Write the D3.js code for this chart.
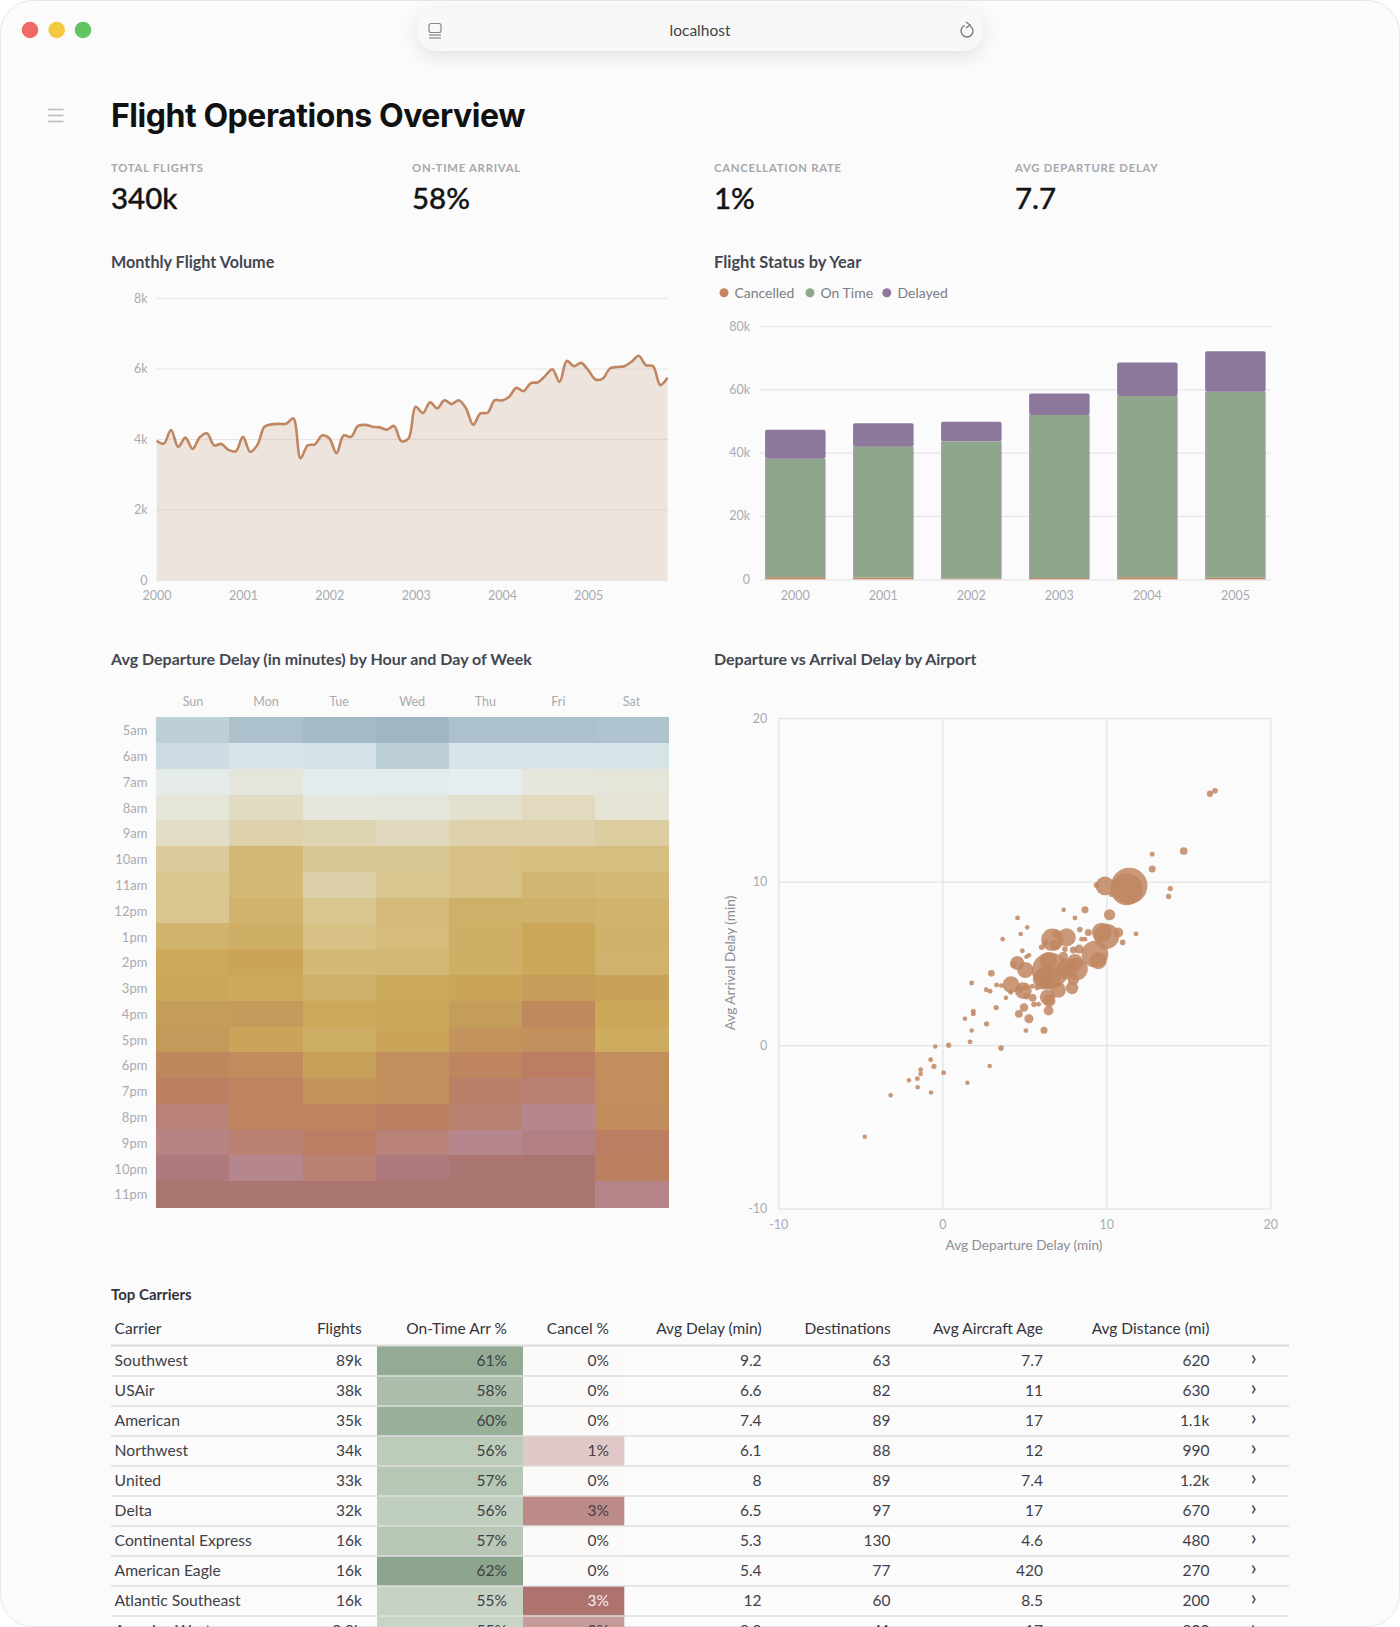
<!DOCTYPE html>
<html>
<head>
<meta charset="utf-8">
<script src="https://cdn.jsdelivr.net/npm/d3@7"></script>
<style>
  html, body { margin: 0; padding: 0; background: #fff; overflow: hidden; }
  svg { display: block; }
  text { font-family: "Lato", sans-serif; }
</style>
</head>
<body>
<svg id="page"></svg>
<script>
// Datos
const kpiLabels = ["TOTAL FLIGHTS", "ON-TIME ARRIVAL", "CANCELLATION RATE", "AVG DEPARTURE DELAY"];
const kpiValues = ["340k", "58%", "1%", "7.7"];

const monthlyFlights = [
  3950, 3870, 4255, 3780, 4040, 3720, 4050, 4160, 3820, 3860, 3690, 3650,
  4060, 3640, 3830, 4350, 4415, 4430, 4430, 4585, 3450, 3820, 3850, 4100,
  4020, 3600, 4100, 4060, 4370, 4400, 4350, 4330, 4265, 4370, 3940, 4010,
  4915, 4735, 5040, 4870, 5100, 4990, 5100, 4870, 4405, 4725, 4745, 5100,
  5090, 5200, 5450, 5360, 5585, 5610, 5790, 5980, 5620, 6215, 6065, 6160,
  5950, 5690, 5715, 6000, 6045, 6065, 6190, 6360, 6095, 6065, 5530, 5735
];
const years = ["2000", "2001", "2002", "2003", "2004", "2005"];
const statusNames = ["Cancelled", "On Time", "Delayed"];
const cancelled = [650, 550, 250, 400, 650, 500];
const onTime = [37450, 41350, 43330, 51500, 57250, 58760];
const delayed = [9160, 7360, 6210, 6800, 10600, 12740];

const days = ["Sun", "Mon", "Tue", "Wed", "Thu", "Fri", "Sat"];
const hours = ["5am", "6am", "7am", "8am", "9am", "10am", "11am", "12pm", "1pm", "2pm",
  "3pm", "4pm", "5pm", "6pm", "7pm", "8pm", "9pm", "10pm", "11pm"];
const hourDelay = [
  [0.6, 0.25, 0.1, 0, 0.25, 0.25, 0.3],
  [0.9, 1.2, 1.1, 0.6, 1.3, 1.2, 1.2],
  [2.3, 2.9, 1.9, 1.9, 2, 2.8, 3],
  [3, 4, 2.8, 2.9, 3.5, 4.1, 3.2],
  [3.8, 4.8, 4.6, 4.2, 4.8, 4.8, 5.2],
  [5.4, 6.7, 5.6, 5.6, 6.1, 6.2, 6.2],
  [5.7, 6.6, 5, 5.7, 6.1, 6.8, 6.6],
  [5.7, 7, 5.7, 6.5, 7.3, 7.2, 7],
  [7, 7.4, 6, 6.4, 7.4, 8.1, 7.2],
  [7.9, 8.2, 6.6, 6.7, 7.4, 8.1, 7.1],
  [8, 7.9, 7.3, 7.8, 8.2, 8.7, 8.4],
  [8.8, 8.9, 7.9, 8, 8.8, 10, 8.1],
  [9, 8.3, 7.5, 8.2, 9.4, 9.6, 7.7],
  [10.2, 9.8, 8.6, 9.6, 10.4, 11, 9.7],
  [10.9, 10.5, 9.3, 9.6, 11.3, 11.8, 9.7],
  [12, 10.5, 10.5, 10.9, 11.7, 13, 9.8],
  [12.5, 11.7, 11.1, 12, 13, 13.6, 11],
  [14, 13, 11.8, 14, 14.8, 15, 10.8],
  [15, 15, 15, 15, 15, 15, 12.8]
];
const delayStops = [0, 1, 2, 3, 4, 5, 6, 7, 8, 9, 10, 11, 12, 13, 14, 15];
const delayColors = ["#9fb7c2", "#d2e0e5", "#e5edee", "#e5e5d9", "#e1dbc2", "#ddd0a8", "#d7c185", "#d1b36e",
  "#cba859", "#c49a5b", "#c0895d", "#bb7e62", "#b88278", "#b5868e", "#ae7a7e", "#aa746f"];

// x = retraso salida, y = retraso llegada, flights = vuelos del aeropuerto
const airportDep = [16.32, 16.63, 14.72, 12.8, 12.8, 13.9, 13.8, 11.4, 11.24, 9.92, 9.41, 10.33, 8.7, 7.4, 8.09, 10.2, 4.59, 5.18, 4.78,
  8.39, 8.9, 3.68, 11.81, 11, 10.73, 9.72, 10.02, 6.71, 7.58, 6.97, 6.87, 6.32, 6.06, 7.48, 8.5, 8.7, 8.35, 7.99, 9.31, 9.51,
  4.88, 5.12, 5.28, 4.57, 4.33, 5.06, 6.46, 7.38, 6.57, 6.16, 7.58, 8.09, 8.19, 6.46, 7.99, 7.91, 2.99, 1.79, 4.19, 3.31, 3.6, 2.68,
  2.91, 4.94, 4.74, 5.08, 5.49, 5.79, 4.17, 3.88, 7.07, 6.42, 6.52, 5.51, 5.14, 5.59, 5.87, 3.29, 4.98, 4.67, 6.48, 1.89, 1.89,
  1.38, 5.28, 2.7, 1.79, 5.1, 6.2, 1.69, -0.43, 0.39, 3.58, -0.71, -0.51, 2.89, -1.32, -1.32, 0.08, -1.52, -2.03,
  -4.73, -3.15, -1.5, -0.69, 1.53];
const airportArr = [15.37, 15.55, 11.87, 11.67, 10.77, 9.57, 9.09, 9.74, 9.53, 9.74, 9.78, 9.23, 8.27, 8.27, 7.78, 7.97, 7.78, 7.2, 6.79,
  7.07, 6.89, 6.48, 6.79, 6.28, 6.89, 6.89, 6.65, 6.44, 6.59, 6.79, 6.12, 6.28, 5.98, 5.87, 6.48, 6.48, 5.87, 5.81, 5.57, 5.16,
  5.77, 5.39, 5.49, 5.02, 4.92, 4.59, 5.16, 5.43, 4.55, 4.04, 4.65, 5.06, 4.65, 4.15, 4, 3.5, 4.39, 3.8, 3.7, 3.68, 3.64, 3.39,
  3.29, 3.33, 3.43, 3.54, 3.6, 3.52, 3.23, 2.89, 3.37, 2.93, 2.72, 2.89, 2.99, 2.5, 2.5, 2.3, 2.3, 1.91, 2.11, 2.07, 1.91,
  1.61, 1.61, 1.3, 0.89, 0.89, 0.91, 0.2, -0.08, 0, -0.18, -0.89, -1.3, -1.28, -1.5, -1.77, -1.69, -2.05, -2.15,
  -5.6, -3.07, -2.57, -2.9, -2.3];
const airportFlights = [324, 256, 484, 196, 400, 225, 225, 10800, 8400, 2900, 256, 256, 400, 170, 196, 1024, 196, 170, 170,
  256, 400, 170, 196, 256, 784, 3136, 5184, 4096, 2704, 576, 900, 256, 256, 256, 196, 196, 676, 400, 5776, 2304,
  196, 144, 196, 1600, 324, 2116, 2500, 676, 10816, 3600, 3600, 2304, 4096, 4900, 1024, 1296, 361, 196, 2304, 196, 196, 196,
  196, 2304, 400, 256, 196, 256, 196, 170, 1936, 1936, 1296, 484, 324, 256, 196, 225, 576, 484, 784, 196, 196,
  170, 676, 225, 170, 196, 400, 196, 170, 225, 256, 196, 225, 170, 196, 170, 196, 196, 170,
  170, 170, 170, 170, 170];

const tableHeaders = ["Carrier", "Flights", "On-Time Arr %", "Cancel %", "Avg Delay (min)", "Destinations", "Avg Aircraft Age", "Avg Distance (mi)"];
const carriers = ["Southwest", "USAir", "American", "Northwest", "United", "Delta", "Continental Express", "American Eagle", "Atlantic Southeast", "America West"];
const carrierFlights = ["89k", "38k", "35k", "34k", "33k", "32k", "16k", "16k", "16k", "9.8k"];
const onTimePct = [61.2, 58.3, 60.4, 56.4, 57, 55.9, 56.9, 62, 55.2, 55];
const cancelPct = [0.1, 0.1, 0.1, 1.3, 0.1, 2.8, 0.1, 0.1, 3.4, 2.4];
const avgDelay = ["9.2", "6.6", "7.4", "6.1", "8", "6.5", "5.3", "5.4", "12", "8.8"];
const destinations = ["63", "82", "89", "88", "89", "97", "130", "77", "60", "41"];
const aircraftAge = ["7.7", "11", "17", "12", "7.4", "17", "4.6", "420", "8.5", "17"];
const avgDistance = ["620", "630", "1.1k", "990", "1.2k", "670", "480", "270", "200", "800"];

// Constantes básicas
const width = 1400;
const height = 1627;
const terracotta = "#c08660";
const sage = "#8fa68d";
const plum = "#8d789c";
const tickGrey = "#a9abb0";
const gridGrey = "#e6e6e8";
const titleInk = "#444752";

const svg = d3.select("#page")
  .attr("width", width)
  .attr("height", height)
  .attr("viewBox", `0 0 ${width} ${height}`);

const defs = svg.append("defs");
const shadow = defs.append("filter").attr("id", "barShadow")
  .attr("x", "-10%").attr("y", "-50%").attr("width", "120%").attr("height", "220%");
shadow.append("feDropShadow")
  .attr("dx", 0).attr("dy", 5).attr("stdDeviation", 9)
  .attr("flood-color", "#000").attr("flood-opacity", 0.1);

function label(parent, x, y, str, size, fill, anchor, weight) {
  return parent.append("text")
    .attr("x", x).attr("y", y)
    .attr("font-size", size)
    .attr("fill", fill)
    .attr("text-anchor", anchor || "start")
    .attr("font-weight", weight || 400)
    .text(str);
}

// Ventana
svg.append("rect")
  .attr("x", 0.5).attr("y", 0.5)
  .attr("width", width - 1).attr("height", height - 1)
  .attr("rx", 32)
  .attr("fill", "#fbfbfb")
  .attr("stroke", "#e6e6e6");

[["#ee6a62", 30], ["#f4c93f", 56.7], ["#62c462", 83]].forEach(([c, x]) => {
  svg.append("circle").attr("cx", x).attr("cy", 30).attr("r", 8.3).attr("fill", c);
});

svg.append("rect")
  .attr("x", 417).attr("y", 9)
  .attr("width", 566).attr("height", 42)
  .attr("rx", 20)
  .attr("fill", "#f8f8f8")
  .attr("filter", "url(#barShadow)");
label(svg, 700, 35.5, "localhost", 15.5, "#444", "middle");

// Iconos de la barra
svg.append("rect").attr("x", 429).attr("y", 23.5).attr("width", 12).attr("height", 9).attr("rx", 2)
  .attr("fill", "none").attr("stroke", "#888").attr("stroke-width", 1.2);
[35, 38].forEach(y => {
  svg.append("line").attr("x1", 429).attr("x2", 441).attr("y1", y).attr("y2", y)
    .attr("stroke", "#888").attr("stroke-width", 1.2);
});
svg.append("path")
  .attr("d", d3.arc()({ innerRadius: 6, outerRadius: 6, startAngle: 0.5, endAngle: 5.9 }))
  .attr("transform", "translate(967,31)")
  .attr("fill", "none").attr("stroke", "#777").attr("stroke-width", 1.3);
svg.append("path").attr("d", "M966,22 L970,25 L966,28").attr("fill", "none").attr("stroke", "#777").attr("stroke-width", 1.3);

// Menú
[109.5, 115.5, 121.5].forEach(y => {
  svg.append("line").attr("x1", 48).attr("x2", 63.5).attr("y1", y).attr("y2", y)
    .attr("stroke", "#bdbdbd").attr("stroke-width", 1.6);
});

label(svg, 111, 126.5, "Flight Operations Overview", 32, "#111", "start", 700)
  .style("font-family", "Inter").attr("letter-spacing", -0.45);

// KPIs
const kpiX = [111, 412, 714, 1015];
kpiLabels.forEach((d, i) => {
  label(svg, kpiX[i], 172, d, 11.3, "#a6a8ac", "start", 700).attr("letter-spacing", 0.75);
  label(svg, kpiX[i], 209, kpiValues[i], 29.5, "#141414", "start", 500)
    .attr("stroke", "#141414").attr("stroke-width", 0.35);
});

// Títulos de cada gráfico
label(svg, 111, 268, "Monthly Flight Volume", 16.2, titleInk, "start", 700);
label(svg, 714, 268, "Flight Status by Year", 16.4, titleInk, "start", 700);
label(svg, 111, 665, "Avg Departure Delay (in minutes) by Hour and Day of Week", 16, titleInk, "start", 700);
label(svg, 714, 665, "Departure vs Arrival Delay by Airport", 16, titleInk, "start", 700);
label(svg, 111, 1300, "Top Carriers", 15, "#33343b", "start", 700);

function styleAxis(g) {
  g.select(".domain").remove();
  g.selectAll(".tick text")
    .attr("fill", tickGrey)
    .attr("font-size", 12.5)
    .style("font-family", "Lato");
}

// Línea: volumen mensual
const lineX = d3.scaleLinear().domain([0, monthlyFlights.length - 1]).range([156.6, 667.5]);
const lineY = d3.scaleLinear().domain([0, 8000]).range([580, 298]);

svg.append("g")
  .attr("transform", "translate(156.6,0)")
  .call(d3.axisLeft(lineY).tickValues([0, 2000, 4000, 6000, 8000])
    .tickFormat(d => d === 0 ? "0" : d / 1000 + "k")
    .tickSize(-(667.5 - 156.6)).tickPadding(9))
  .call(styleAxis)
  .call(g => g.selectAll(".tick line").attr("stroke", gridGrey).attr("stroke-width", 1.2));

svg.append("g")
  .attr("transform", "translate(0,580)")
  .call(d3.axisBottom(lineX).tickValues(d3.range(0, 72, 12))
    .tickFormat(d => years[d / 12]).tickSize(0).tickPadding(11))
  .call(styleAxis);

const monthArea = d3.area()
  .x((d, i) => lineX(i))
  .y0(lineY(0))
  .y1(d => lineY(d))
  .curve(d3.curveCatmullRom.alpha(0.5));
const monthLine = d3.line()
  .x((d, i) => lineX(i))
  .y(d => lineY(d))
  .curve(d3.curveCatmullRom.alpha(0.5));

svg.append("path").attr("d", monthArea(monthlyFlights)).attr("fill", "#b88a6c").attr("fill-opacity", 0.2);
svg.append("path").attr("d", monthLine(monthlyFlights)).attr("fill", "none").attr("stroke", terracotta).attr("stroke-width", 2.6);

// Barras apiladas
const barX = d3.scaleBand().domain(years).range([751.3, 1279.4]).paddingInner(0.3125).paddingOuter(0.15625);
const barY = d3.scaleLinear().domain([0, 80000]).range([579.3, 326]);

svg.append("g")
  .attr("transform", "translate(760,0)")
  .call(d3.axisLeft(barY).tickValues([0, 20000, 40000, 60000, 80000])
    .tickFormat(d => d === 0 ? "0" : d / 1000 + "k")
    .tickSize(-(1271 - 760)).tickPadding(10))
  .call(styleAxis)
  .call(g => g.selectAll(".tick line").attr("stroke", gridGrey).attr("stroke-width", 1.2));

svg.append("g")
  .attr("transform", "translate(0,579.3)")
  .call(d3.axisBottom(barX).tickSize(0).tickPadding(11.5))
  .call(styleAxis);

const statusRows = years.map((y, i) => ({ year: y, Cancelled: cancelled[i], "On Time": onTime[i], Delayed: delayed[i] }));
const stacked = d3.stack().keys(statusNames)(statusRows);
const statusColor = d3.scaleOrdinal().domain(statusNames).range(["#c4865f", sage, plum]);

svg.append("g").selectAll("g")
  .data(stacked)
  .join("g")
  .attr("fill", d => statusColor(d.key))
  .selectAll("rect")
  .data(d => d)
  .join("rect")
  .attr("x", d => barX(d.data.year))
  .attr("y", d => barY(d[1]))
  .attr("width", barX.bandwidth())
  .attr("height", d => barY(d[0]) - barY(d[1]))
  .attr("rx", (d, i, n) => n[i].parentNode.__data__.key === "Delayed" ? 2 : 0);

const legendDot = [724, 810, 886.8];
const legendText = [734.4, 820.5, 897.5];
statusNames.forEach((d, i) => {
  svg.append("circle").attr("cx", legendDot[i]).attr("cy", 292.7).attr("r", 4.5).attr("fill", statusColor(d));
  label(svg, legendText[i], 298, d, 14, "#7b7d84");
});

// Mapa de calor
const cellX = d3.scaleBand().domain(days).range([156.4, 668]);
const cellY = d3.scaleBand().domain(hours).range([717.3, 1207]);
const delayColor = d3.scaleLinear().domain(delayStops).range(delayColors).clamp(true);

svg.append("g").attr("transform", "translate(0,717.3)")
  .call(d3.axisTop(cellX).tickSize(0).tickPadding(11))
  .call(styleAxis);
svg.append("g").attr("transform", "translate(156.4,1)")
  .call(d3.axisLeft(cellY).tickSize(0).tickPadding(9))
  .call(styleAxis)
  .call(g => g.selectAll(".tick text").attr("font-size", 13));

svg.append("g").attr("shape-rendering", "crispEdges").selectAll("g")
  .data(hourDelay)
  .join("g")
  .selectAll("rect")
  .data((row, r) => row.map((v, c) => ({ r, c, v })))
  .join("rect")
  .attr("x", d => cellX(days[d.c]))
  .attr("y", d => cellY(hours[d.r]))
  .attr("width", cellX.bandwidth() + 0.5)
  .attr("height", cellY.bandwidth() + 0.5)
  .attr("fill", d => delayColor(d.v));

// Dispersión
const dotX = d3.scaleLinear().domain([-10, 20]).range([778.3, 1270.3]);
const dotY = d3.scaleLinear().domain([-10, 20]).range([1208.7, 718]);
const dotR = d3.scaleSqrt().domain([0, d3.max(airportFlights)]).range([0, 18.2]);
const dotTicks = [-10, 0, 10, 20];

svg.append("g").attr("transform", "translate(778.3,0)")
  .call(d3.axisLeft(dotY).tickValues(dotTicks).tickFormat(String).tickSize(-(1270.3 - 778.3)).tickPadding(11))
  .call(styleAxis)
  .call(g => g.selectAll(".tick line").attr("stroke", "#e2e3e6").attr("stroke-width", 1.3));
svg.append("g").attr("transform", "translate(0,1208.7)")
  .call(d3.axisBottom(dotX).tickValues(dotTicks).tickFormat(String).tickSize(-(1208.7 - 718)).tickPadding(11))
  .call(styleAxis)
  .call(g => g.selectAll(".tick line").attr("stroke", "#e2e3e6").attr("stroke-width", 1.3));

label(svg, 1024, 1250, "Avg Departure Delay (min)", 13.6, "#8b8d93", "middle");
label(svg, 0, 0, "Avg Arrival Delay (min)", 13.6, "#8b8d93", "middle")
  .attr("transform", "translate(735,963) rotate(-90)");

svg.append("g").selectAll("circle")
  .data(airportFlights.map((f, i) => ({ f, x: airportDep[i], y: airportArr[i] })))
  .join("circle")
  .attr("cx", d => dotX(d.x))
  .attr("cy", d => dotY(d.y))
  .attr("r", d => dotR(d.f))
  .attr("fill", terracotta)
  .attr("fill-opacity", 0.85);

// Tabla
const rowY = d3.scaleBand().domain(carriers).range([1346, 1646]);
const onTimeColor = d3.scaleLinear().domain([55, 62]).range(["#c8d4c6", "#8ca58c"]);
const cancelColor = d3.scaleLinear().domain([0, 3.4]).range(["#fefdfd", "#ae726f"]);
const textInk = "#3f4047";

// columnas: borde derecho del texto
const colRight = [null, 361.8, 507, 609, 761.6, 890.6, 1042.9, 1209.4];

svg.append("g").selectAll("rect")
  .data(onTimePct)
  .join("rect")
  .attr("x", 377).attr("width", 146)
  .attr("y", (d, i) => rowY(carriers[i]))
  .attr("height", rowY.bandwidth())
  .attr("fill", d => onTimeColor(d));
svg.append("g").selectAll("rect")
  .data(cancelPct)
  .join("rect")
  .attr("x", 523).attr("width", 101.3)
  .attr("y", (d, i) => rowY(carriers[i]))
  .attr("height", rowY.bandwidth())
  .attr("fill", d => cancelColor(d));

tableHeaders.forEach((d, i) => {
  if (i === 0) label(svg, 114.6, 1334.3, d, 15.5, "#33343b");
  else label(svg, colRight[i], 1334.3, d, 15.5, "#33343b", "end");
});

svg.append("line").attr("x1", 111).attr("x2", 1289).attr("y1", 1345.5).attr("y2", 1345.5)
  .attr("stroke", "#dcdcdc").attr("stroke-width", 2);

carriers.forEach((c, i) => {
  const base = rowY(c) + 20;
  svg.append("line").attr("x1", 111).attr("x2", 1289)
    .attr("y1", rowY(c) + 30).attr("y2", rowY(c) + 30)
    .attr("stroke", "#dedede").attr("stroke-width", 1.6);
  label(svg, 114.6, base, c, 15.7, textInk);
  label(svg, colRight[1], base, carrierFlights[i], 15.5, textInk, "end");
  label(svg, colRight[2], base, Math.round(onTimePct[i]) + "%", 15.5, textInk, "end");
  label(svg, colRight[3], base, Math.round(cancelPct[i]) + "%", 15.5, cancelPct[i] > 3 ? "#f5eeee" : textInk, "end");
  label(svg, colRight[4], base, avgDelay[i], 15.5, textInk, "end");
  label(svg, colRight[5], base, destinations[i], 15.5, textInk, "end");
  label(svg, colRight[6], base, aircraftAge[i], 15.5, textInk, "end");
  label(svg, colRight[7], base, avgDistance[i], 15.5, textInk, "end");
  label(svg, 1253.6, base - 1, "›", 21, textInk, "middle");
});
</script>
</body>
</html>
